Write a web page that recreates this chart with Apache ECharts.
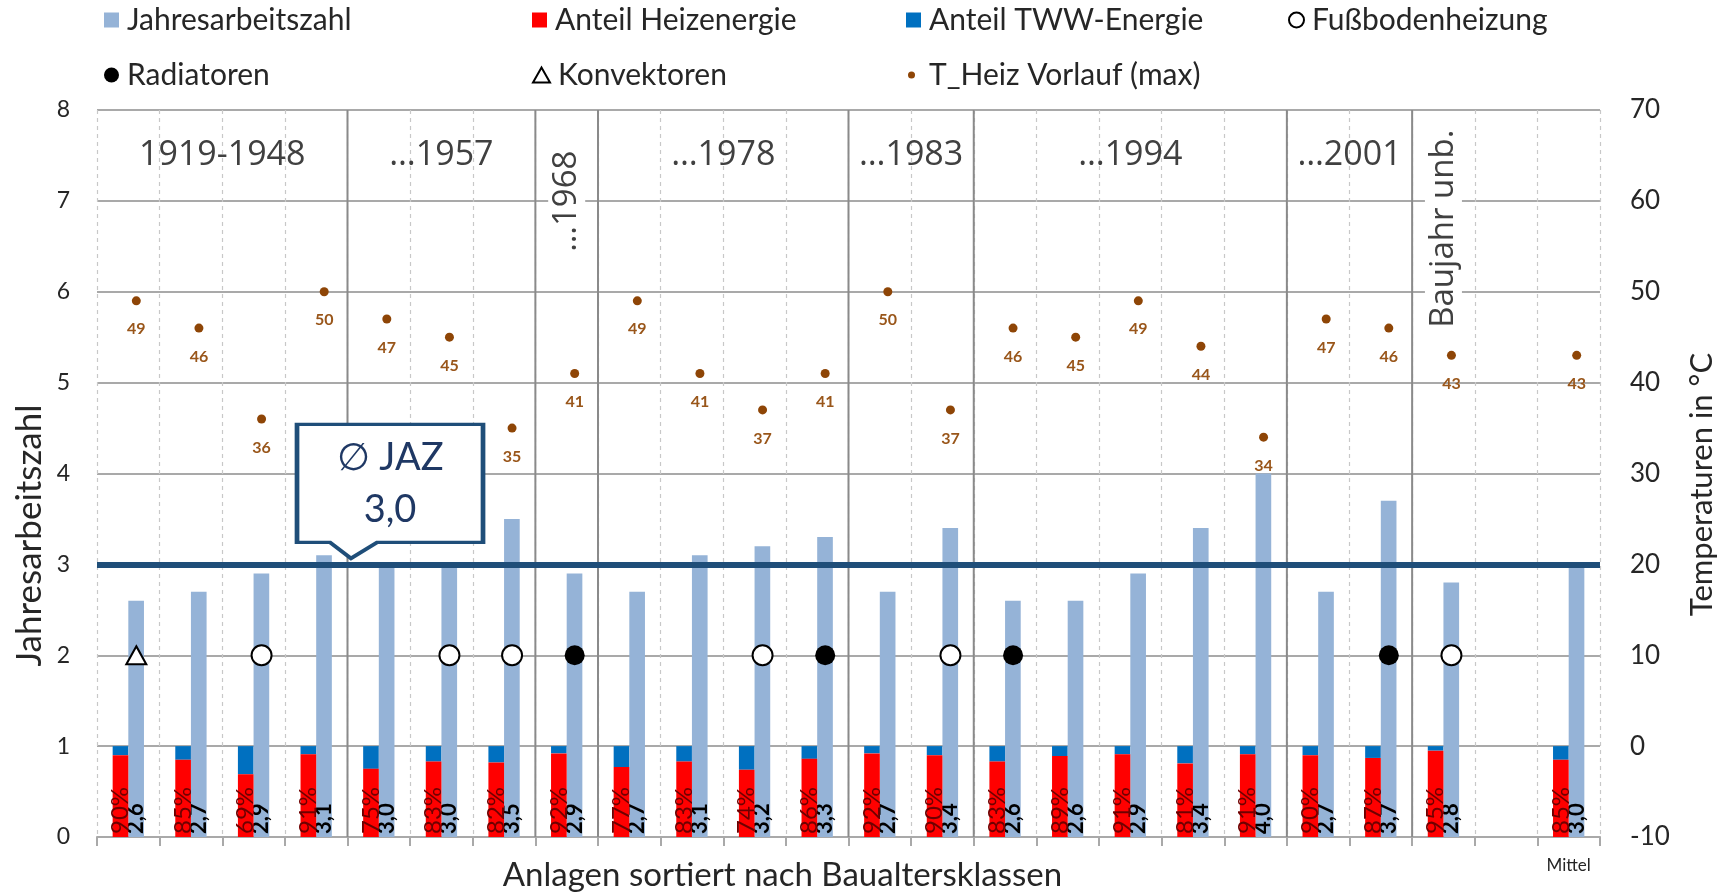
<!DOCTYPE html>
<html>
<head>
<meta charset="utf-8">
<title>JAZ nach Baualtersklassen</title>
<script src="https://cdn.jsdelivr.net/npm/echarts@6/dist/echarts.min.js"></script>
<style>
  html, body { margin: 0; padding: 0; background: #fff; }
  #chart { width: 1731px; height: 892px; }
</style>
</head>
<body>
<div id="chart"></div>
<script>
// Anlagen (22 + Lücke + Mittel)
const categories = [
  'Anlage 1', 'Anlage 2', 'Anlage 3', 'Anlage 4', 'Anlage 5', 'Anlage 6',
  'Anlage 7', 'Anlage 8', 'Anlage 9', 'Anlage 10', 'Anlage 11', 'Anlage 12',
  'Anlage 13', 'Anlage 14', 'Anlage 15', 'Anlage 16', 'Anlage 17', 'Anlage 18',
  'Anlage 19', 'Anlage 20', 'Anlage 21', 'Anlage 22', 'leer', 'Mittel'
];
const jaz = [2.6, 2.7, 2.9, 3.1, 3.0, 3.0, 3.5, 2.9, 2.7, 3.1, 3.2, 3.3,
             2.7, 3.4, 2.6, 2.6, 2.9, 3.4, 4.0, 2.7, 3.7, 2.8, null, 3.0];
// Anteil Heizenergie in %
const anteilHeiz = [90, 85, 69, 91, 75, 83, 82, 92, 77, 83, 74, 86,
                    92, 90, 83, 89, 91, 81, 91, 90, 87, 95, null, 85];
// T_Heiz Vorlauf (max) in °C
const tVorlauf = [49, 46, 36, 50, 47, 45, 35, 41, 49, 41, 37, 41,
                  50, 37, 46, 45, 49, 44, 34, 47, 46, 43, null, 43];
// Heizflächen (Index der Anlage)
const fbhIdx = [2, 5, 6, 10, 13, 21];
const radIdx = [7, 11, 14, 20];
const konvIdx = [0];
const markerLevel = 2;
const avgJaz = 3.0;

// Baualtersklassen
const groupNames = ['1919-1948', '…1957', '…1968', '…1978', '…1983', '…1994', '…2001', 'Baujahr unb.'];
const groupEnds = [4, 7, 8, 12, 14, 19, 21, 22];
const groupVertical = [false, false, true, false, false, false, false, true];
const groupLabelY = [7.5, 7.5, 7.62, 7.5, 7.5, 7.5, 7.5, 7.85];

const fmt = function (v) { return v.toFixed(1).replace('.', ','); };
const FONT = 'Lato';
const gridColor = '#A9A9A9';

const chart = echarts.init(document.getElementById('chart'));

const legendBase = {
    padding: 0,
    itemGap: 0,
    itemWidth: 15,
    itemHeight: 15,
    textStyle: { fontSize: 30, color: '#262626', fontFamily: FONT, padding: [0, 0, 0, 3] }
};
const legends = [
    { data: [{ name: 'Jahresarbeitszahl', icon: 'rect' }], left: 104, top: 5 },
    { data: [{ name: 'Anteil Heizenergie', icon: 'rect' }], left: 532, top: 5 },
    { data: [{ name: 'Anteil TWW-Energie', icon: 'rect' }], left: 906, top: 5 },
    { data: ['Fußbodenheizung'], left: 1288, top: 5 },
    { data: ['Radiatoren'], left: 104, top: 60 },
    { data: ['Konvektoren'], left: 532, top: 60, itemWidth: 17, itemHeight: 15 },
    { data: ['T_Heiz Vorlauf (max)'], left: 908, top: 60, itemWidth: 7, itemHeight: 7,
      textStyle: { fontSize: 30, color: '#262626', fontFamily: FONT, padding: [0, 0, 0, 9] } }
].map(function (l) { return Object.assign({}, legendBase, l); });

const markerData = function (idx) {
    return idx.map(function (i) { return [i, markerLevel]; });
};

const option = {
    animation: false,
    backgroundColor: '#fff',
    textStyle: { fontFamily: FONT },
    legend: legends,
    grid: { left: 97, right: 131, top: 110, bottom: 55, outerBoundsMode: 'none' },
    xAxis: [
        {
            type: 'category',
            data: categories,
            axisLine: { lineStyle: { color: gridColor, width: 2 } },
            axisTick: { show: true, length: 9, interval: 0, lineStyle: { color: gridColor, width: 2 } },
            axisLabel: {
                interval: 0, margin: 20, fontSize: 17, color: '#262626', fontFamily: FONT,
                formatter: function (v) { return v === 'Mittel' ? v : ''; }
            },
            splitLine: { show: true, interval: 0, lineStyle: { color: '#C8C8C8', type: [4, 4], width: 1.2 } },
            name: 'Anlagen sortiert nach Baualtersklassen',
            nameLocation: 'middle',
            nameGap: 22,
            nameMoveOverlap: false,
            nameTextStyle: { fontSize: 33, color: '#262626', fontFamily: FONT, padding: [0, 132, 0, 0] }
        },
        { type: 'value', min: 0, max: 24, show: false }
    ],
    yAxis: [
        {
            type: 'value', min: 0, max: 8, interval: 1,
            axisLine: { show: false }, axisTick: { show: false },
            axisLabel: { fontSize: 23, color: '#262626', margin: 27, fontFamily: FONT },
            splitLine: { lineStyle: { color: gridColor, width: 2 } },
            name: 'Jahresarbeitszahl', nameLocation: 'middle', nameGap: 50, nameRotate: 90,
            nameMoveOverlap: false,
            nameTextStyle: { fontSize: 35, color: '#262626', fontFamily: FONT, padding: [0, 124, 0, 0] }
        },
        {
            type: 'value', min: -10, max: 70, interval: 10,
            axisLine: { show: false }, axisTick: { show: false },
            axisLabel: { fontSize: 26, color: '#262626', margin: 30, fontFamily: FONT },
            splitLine: { show: false },
            name: 'Temperaturen in °C', nameLocation: 'middle', nameGap: 86, nameRotate: 90,
            nameMoveOverlap: false,
            nameTextStyle: { fontSize: 31, color: '#262626', fontFamily: FONT, padding: [0, 22, 0, 0] }
        }
    ],
    series: [
        {
            name: 'Anteil Heizenergie',
            type: 'bar',
            stack: 'anteil',
            barWidth: '25%',
            barGap: '0%',
            z: 3,
            itemStyle: { color: '#FF0000' },
            label: {
                show: true, position: 'insideBottom', distance: 3, rotate: 90,
                align: 'left', verticalAlign: 'middle',
                fontSize: 24, color: '#6E0000', fontFamily: FONT,
                formatter: function (p) { return anteilHeiz[p.dataIndex] + '%'; }
            },
            data: anteilHeiz.map(function (v) { return v == null ? null : v / 100; })
        },
        {
            name: 'Anteil TWW-Energie',
            type: 'bar',
            stack: 'anteil',
            barWidth: '25%',
            barGap: '0%',
            itemStyle: { color: '#0070C0' },
            data: anteilHeiz.map(function (v) { return v == null ? null : (100 - v) / 100; })
        },
        {
            name: 'Jahresarbeitszahl',
            type: 'bar',
            barWidth: '25%',
            barGap: '0%',
            itemStyle: { color: '#95B3D7' },
            label: {
                show: true, position: 'insideBottom', distance: 3, rotate: 90,
                align: 'left', verticalAlign: 'middle',
                fontSize: 22, fontWeight: 'bold', color: '#000', fontFamily: FONT,
                formatter: function (p) { return fmt(p.value); }
            },
            data: jaz,
            markLine: {
                z: 5,
                silent: true,
                symbol: 'none',
                label: { show: false },
                lineStyle: { color: '#1F4E79', width: 6, type: 'solid' },
                data: [{ yAxis: avgJaz }]
            },
            markPoint: {
                z: 6,
                silent: true,
                data: [{
                    coord: ['Anlage 4', avgJaz],
                    symbol: 'path://M0,0H186V118H80L54,134L33,118H0Z',
                    symbolSize: [186, 134],
                    symbolOffset: [66, -73],
                    itemStyle: { color: '#fff', borderColor: '#1F4E79', borderWidth: 4 },
                    label: {
                        show: true,
                        offset: [0, -8],
                        formatter: '{a|∅ JAZ}\n{a|' + fmt(avgJaz) + '}',
                        rich: { a: { fontSize: 38, lineHeight: 52, color: '#1F3864', fontFamily: FONT } }
                    }
                }]
            }
        },
        {
            name: 'Fußbodenheizung',
            type: 'scatter',
            symbol: 'circle',
            symbolSize: 20,
            symbolOffset: [8, 0],
            z: 4,
            itemStyle: { color: '#fff', borderColor: '#000', borderWidth: 2, opacity: 1 },
            data: markerData(fbhIdx)
        },
        {
            name: 'Radiatoren',
            type: 'scatter',
            symbol: 'circle',
            symbolSize: 20,
            symbolOffset: [8, 0],
            z: 4,
            itemStyle: { color: '#000', opacity: 1 },
            data: markerData(radIdx)
        },
        {
            name: 'Konvektoren',
            type: 'scatter',
            symbol: 'triangle',
            symbolSize: [20, 18],
            symbolOffset: [8, 0],
            z: 4,
            itemStyle: { color: '#fff', borderColor: '#000', borderWidth: 2, opacity: 1 },
            data: markerData(konvIdx)
        },
        {
            name: 'T_Heiz Vorlauf (max)',
            type: 'scatter',
            yAxisIndex: 1,
            symbol: 'circle',
            symbolSize: 9,
            symbolOffset: [8, 0],
            z: 4,
            itemStyle: { color: '#8E4506', opacity: 1 },
            label: {
                show: true, position: 'bottom', distance: 16,
                fontSize: 16, fontWeight: 'bold', color: '#99561A', fontFamily: FONT
            },
            data: tVorlauf
        },
        {
            type: 'custom',
            name: 'Baualtersklassen',
            xAxisIndex: 1,
            yAxisIndex: 0,
            silent: true,
            z: 3,
            clip: false,
            encode: { x: [0, 1], y: 3 },
            data: groupNames.map(function (n, i) {
                return [i === 0 ? 0 : groupEnds[i - 1], groupEnds[i], i, 8];
            }),
            renderItem: function (params, api) {
                const s = api.value(0), e = api.value(1), i = api.value(2);
                const children = [];
                if (i < groupNames.length - 1) {
                    const p0 = api.coord([e, 0]);
                    const p1 = api.coord([e, 8]);
                    children.push({
                        type: 'line',
                        shape: { x1: p0[0], y1: p0[1], x2: p1[0], y2: p1[1] },
                        style: { stroke: '#8A8A8A', lineWidth: 2 }
                    });
                }
                const pos = api.coord([(s + e) / 2, groupLabelY[i]]);
                if (groupVertical[i]) {
                    children.push({
                        type: 'text', x: pos[0], y: pos[1], rotation: Math.PI / 2, z2: 10,
                        style: {
                            text: groupNames[i], fontSize: 33, fontFamily: 'Open Sans', fill: '#404040',
                            align: 'right', verticalAlign: 'middle',
                            backgroundColor: '#fff', padding: [2, 6]
                        }
                    });
                } else {
                    children.push({
                        type: 'text', x: pos[0], y: pos[1], z2: 10,
                        style: {
                            text: groupNames[i], fontSize: 34, fontFamily: 'Open Sans', fill: '#404040',
                            align: 'center', verticalAlign: 'middle'
                        }
                    });
                }
                return { type: 'group', children: children };
            }
        }
    ]
};

chart.setOption(option);
</script>
</body>
</html>
